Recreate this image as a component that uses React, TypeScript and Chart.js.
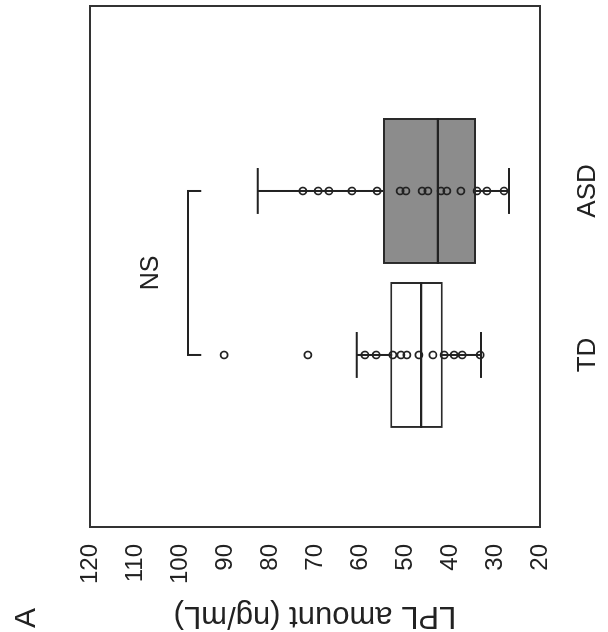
import React, { useEffect, useRef } from "react";
import { Chart, registerables } from "chart.js";

Chart.register(...registerables);

// ---- data ----
const categories = ["TD", "ASD"];
const categoryPositions = [1, 2];
const valueTicks = [20, 30, 40, 50, 60, 70, 80, 90, 100, 110, 120];
const boxQ1 = [41.6, 34.2];
const boxMedian = [46.4, 42.7];
const boxQ3 = [53.3, 54.9];
const whiskerLow = [33.1, 26.9];
const whiskerHigh = [60.7, 82.7];
const tdPoints = [90.2, 71.6, 58.9, 56.4, 52.7, 50.9, 49.6, 46.9, 43.8, 41.3, 39.1, 37.3, 33.3];
const asdPoints = [72.7, 69.3, 66.9, 61.8, 56.2, 51.1, 49.8, 46.2, 44.9, 42.0, 40.7, 37.6, 34.0, 31.8, 28.0];
const bracketLevel = 98.2;
const bracketTickEnd = 95.3;
const significanceLabel = "NS";
const significanceValue = 106.4;
const axisTitle = "LPL amount (ng/mL)";
const panelLabel = "A";

// ---- layout / style constants ----
const BOX_HALF = 0.445;
const CAP_HALF = 0.14;
const FONT = '"Liberation Sans", Arial, Helvetica, sans-serif';
const INK = "#222222";

const groupPoints = [tdPoints, asdPoints];

function buildWhiskers() {
  const d: any[] = [];
  categoryPositions.forEach((p, i) => {
    d.push({ x: p, y: whiskerLow[i] }, { x: p, y: whiskerHigh[i] }, { x: p, y: null });
    d.push({ x: p - CAP_HALF, y: whiskerHigh[i] }, { x: p + CAP_HALF, y: whiskerHigh[i] }, { x: p, y: null });
    d.push({ x: p - CAP_HALF, y: whiskerLow[i] }, { x: p + CAP_HALF, y: whiskerLow[i] }, { x: p, y: null });
  });
  return d;
}

function buildMedians() {
  const d: any[] = [];
  categoryPositions.forEach((p, i) => {
    d.push({ x: p - BOX_HALF, y: boxMedian[i] }, { x: p + BOX_HALF, y: boxMedian[i] }, { x: p, y: null });
  });
  return d;
}

function buildPoints() {
  const d: any[] = [];
  categoryPositions.forEach((p, i) => {
    groupPoints[i].forEach((v) => d.push({ x: p, y: v }));
  });
  return d;
}

const decorPlugin = {
  id: "decor",
  afterDatasetsDraw(chart: any) {
    const { ctx, chartArea, scales } = chart;
    const xs = scales.x;
    const ys = scales.y;
    ctx.save();
    // frame
    ctx.strokeStyle = "#333333";
    ctx.lineWidth = 2;
    ctx.strokeRect(chartArea.left, chartArea.top, chartArea.right - chartArea.left, chartArea.bottom - chartArea.top);
    ctx.fillStyle = INK;
    // category labels
    ctx.font = `26px ${FONT}`;
    ctx.textAlign = "center";
    ctx.textBaseline = "middle";
    categoryPositions.forEach((p, i) => {
      ctx.fillText(categories[i], xs.getPixelForValue(p), 588);
    });
    // significance
    ctx.font = `25px ${FONT}`;
    ctx.fillText(
      significanceLabel,
      xs.getPixelForValue((categoryPositions[0] + categoryPositions[1]) / 2),
      ys.getPixelForValue(significanceValue)
    );
    // axis title
    ctx.font = `31px ${FONT}`;
    ctx.save();
    ctx.translate(16, (chartArea.top + chartArea.bottom) / 2);
    ctx.rotate(-Math.PI / 2);
    ctx.fillText(axisTitle, 0, 0);
    ctx.restore();
    // panel label
    ctx.font = `30px ${FONT}`;
    ctx.fillText(panelLabel, 14, 27);
    ctx.restore();
  },
};

export default function App() {
  const ref = useRef<HTMLCanvasElement>(null);

  useEffect(() => {
    const canvas = ref.current;
    if (!canvas) return;
    const chart = new Chart(canvas, {
      type: "scatter",
      data: {
        datasets: [
          {
            type: "scatter",
            label: "points",
            data: buildPoints(),
            order: 0,
            pointStyle: "circle",
            pointRadius: 3.5,
            pointBorderWidth: 1.7,
            pointBorderColor: INK,
            pointBackgroundColor: "rgba(0,0,0,0)",
            showLine: false,
          } as any,
          {
            type: "line",
            label: "medians",
            data: buildMedians(),
            order: 1,
            showLine: true,
            spanGaps: false,
            pointRadius: 0,
            borderColor: INK,
            borderWidth: 2.2,
            fill: false,
          } as any,
          {
            type: "bar",
            label: "boxes",
            data: categoryPositions.map((p, i) => ({ x: p, y: [boxQ1[i], boxQ3[i]] })),
            order: 2,
            backgroundColor: ["#ffffff", "#8c8c8c"],
            borderColor: "#2a2a2a",
            borderWidth: 2,
            borderSkipped: false,
            categoryPercentage: 1,
            barPercentage: BOX_HALF * 2,
          } as any,
          {
            type: "line",
            label: "whiskers",
            data: buildWhiskers(),
            order: 3,
            showLine: true,
            spanGaps: false,
            pointRadius: 0,
            borderColor: INK,
            borderWidth: 2,
            fill: false,
          } as any,
          {
            type: "line",
            label: "bracket",
            data: [
              { x: categoryPositions[0], y: bracketTickEnd },
              { x: categoryPositions[0], y: bracketLevel },
              { x: categoryPositions[1], y: bracketLevel },
              { x: categoryPositions[1], y: bracketTickEnd },
            ],
            order: 4,
            showLine: true,
            pointRadius: 0,
            borderColor: INK,
            borderWidth: 2,
            fill: false,
          } as any,
        ],
      },
      options: {
        responsive: false,
        animation: false,
        events: [],
        layout: { padding: { top: 90, bottom: 68, right: 6, left: 0 } },
        plugins: {
          legend: { display: false },
          tooltip: { enabled: false },
        },
        scales: {
          x: {
            type: "linear",
            display: false,
            offset: false,
            min: -0.049,
            max: 3.128,
            afterBuildTicks: (scale: any) => {
              scale.ticks = categoryPositions.map((v) => ({ value: v }));
            },
          },
          y: {
            type: "linear",
            min: valueTicks[0],
            max: valueTicks[valueTicks.length - 1],
            afterBuildTicks: (scale: any) => {
              scale.ticks = valueTicks.map((v) => ({ value: v }));
            },
            afterFit: (scale: any) => {
              scale.width = 105;
            },
            grid: { display: false, drawTicks: false },
            border: { display: false },
            ticks: {
              padding: 17,
              color: INK,
              font: { family: FONT, size: 24 },
              callback: (v: any) => String(v),
            },
          },
        },
      },
      plugins: [decorPlugin],
    } as any);
    return () => chart.destroy();
  }, []);

  return (
    <div
      style={{
        position: "fixed",
        left: 0,
        top: 0,
        width: 608,
        height: 632,
        overflow: "hidden",
        background: "#ffffff",
      }}
    >
      <canvas
        ref={ref}
        width={632}
        height={608}
        style={{
          position: "absolute",
          left: 0,
          top: 0,
          width: 632,
          height: 608,
          transformOrigin: "0 0",
          transform: "translateY(632px) rotate(-90deg)",
        }}
      />
    </div>
  );
}
